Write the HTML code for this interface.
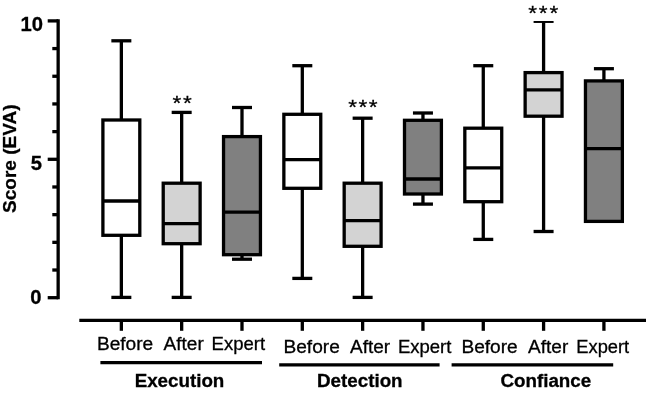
<!DOCTYPE html>
<html><head><meta charset="utf-8"><title>Score (EVA)</title>
<style>html,body{margin:0;padding:0;background:#fff}svg{display:block}text{font-family:"Liberation Sans",sans-serif;fill:#000}.b{font-weight:bold}</style></head><body>
<svg width="646" height="394" viewBox="0 0 646 394">
<rect width="646" height="394" fill="#fff"/>
<defs><clipPath id="plot"><rect x="60" y="20.9" width="586" height="290"/></clipPath></defs>
<g stroke="#000" stroke-width="3.3" fill="none" stroke-linecap="butt">
<line x1="58.15" y1="19.25" x2="58.15" y2="299.35"/>
<line x1="47.7" y1="297.70" x2="58.15" y2="297.70"/>
<line x1="52.3" y1="270.02" x2="58.15" y2="270.02"/>
<line x1="52.3" y1="242.34" x2="58.15" y2="242.34"/>
<line x1="52.3" y1="214.66" x2="58.15" y2="214.66"/>
<line x1="52.3" y1="186.98" x2="58.15" y2="186.98"/>
<line x1="47.7" y1="159.30" x2="58.15" y2="159.30"/>
<line x1="52.3" y1="131.62" x2="58.15" y2="131.62"/>
<line x1="52.3" y1="103.94" x2="58.15" y2="103.94"/>
<line x1="52.3" y1="76.26" x2="58.15" y2="76.26"/>
<line x1="52.3" y1="48.58" x2="58.15" y2="48.58"/>
<line x1="47.7" y1="20.90" x2="58.15" y2="20.90"/>
<line x1="79.3" y1="320.4" x2="646" y2="320.4"/>
<line x1="121.35" y1="320.4" x2="121.35" y2="330.8"/>
<line x1="181.67" y1="320.4" x2="181.67" y2="330.8"/>
<line x1="241.99" y1="320.4" x2="241.99" y2="330.8"/>
<line x1="302.31" y1="320.4" x2="302.31" y2="330.8"/>
<line x1="362.63" y1="320.4" x2="362.63" y2="330.8"/>
<line x1="422.95" y1="320.4" x2="422.95" y2="330.8"/>
<line x1="483.27" y1="320.4" x2="483.27" y2="330.8"/>
<line x1="543.59" y1="320.4" x2="543.59" y2="330.8"/>
<line x1="603.91" y1="320.4" x2="603.91" y2="330.8"/>
<line x1="100.4" y1="362.6" x2="262" y2="362.6"/>
<line x1="279.2" y1="364.8" x2="439.6" y2="364.8"/>
<line x1="451.6" y1="364.8" x2="613.2" y2="364.8"/>
</g>
<g stroke="#000" stroke-width="3.3" fill="none" stroke-linecap="butt" clip-path="url(#plot)">
<line x1="121.35" y1="40.8" x2="121.35" y2="120.0"/>
<line x1="111.35" y1="40.8" x2="131.35" y2="40.8"/>
<line x1="121.35" y1="235.3" x2="121.35" y2="297.4"/>
<line x1="111.35" y1="297.4" x2="131.35" y2="297.4"/>
<rect x="102.90" y="120.0" width="36.90" height="115.30" fill="#ffffff"/>
<line x1="102.90" y1="201.0" x2="139.80" y2="201.0"/>
<line x1="181.67" y1="112.4" x2="181.67" y2="183.2"/>
<line x1="171.67" y1="112.4" x2="191.67" y2="112.4"/>
<line x1="181.67" y1="243.7" x2="181.67" y2="297.4"/>
<line x1="171.67" y1="297.4" x2="191.67" y2="297.4"/>
<rect x="163.22" y="183.2" width="36.90" height="60.50" fill="#d3d3d3"/>
<line x1="163.22" y1="223.6" x2="200.12" y2="223.6"/>
<line x1="241.99" y1="107.5" x2="241.99" y2="136.6"/>
<line x1="231.99" y1="107.5" x2="251.99" y2="107.5"/>
<line x1="241.99" y1="254.7" x2="241.99" y2="259.2"/>
<line x1="231.99" y1="259.2" x2="251.99" y2="259.2"/>
<rect x="223.54" y="136.6" width="36.90" height="118.10" fill="#808080"/>
<line x1="223.54" y1="212.1" x2="260.44" y2="212.1"/>
<line x1="302.31" y1="65.7" x2="302.31" y2="114.3"/>
<line x1="292.31" y1="65.7" x2="312.31" y2="65.7"/>
<line x1="302.31" y1="188.3" x2="302.31" y2="278.4"/>
<line x1="292.31" y1="278.4" x2="312.31" y2="278.4"/>
<rect x="283.86" y="114.3" width="36.90" height="74.00" fill="#ffffff"/>
<line x1="283.86" y1="159.7" x2="320.76" y2="159.7"/>
<line x1="362.63" y1="118.2" x2="362.63" y2="183.2"/>
<line x1="352.63" y1="118.2" x2="372.63" y2="118.2"/>
<line x1="362.63" y1="246.3" x2="362.63" y2="297.4"/>
<line x1="352.63" y1="297.4" x2="372.63" y2="297.4"/>
<rect x="344.18" y="183.2" width="36.90" height="63.10" fill="#d3d3d3"/>
<line x1="344.18" y1="220.6" x2="381.08" y2="220.6"/>
<line x1="422.95" y1="113.0" x2="422.95" y2="120.3"/>
<line x1="412.95" y1="113.0" x2="432.95" y2="113.0"/>
<line x1="422.95" y1="194.0" x2="422.95" y2="204.1"/>
<line x1="412.95" y1="204.1" x2="432.95" y2="204.1"/>
<rect x="404.50" y="120.3" width="36.90" height="73.70" fill="#808080"/>
<line x1="404.50" y1="179.0" x2="441.40" y2="179.0"/>
<line x1="483.27" y1="65.7" x2="483.27" y2="128.2"/>
<line x1="473.27" y1="65.7" x2="493.27" y2="65.7"/>
<line x1="483.27" y1="201.7" x2="483.27" y2="239.4"/>
<line x1="473.27" y1="239.4" x2="493.27" y2="239.4"/>
<rect x="464.82" y="128.2" width="36.90" height="73.50" fill="#ffffff"/>
<line x1="464.82" y1="167.8" x2="501.72" y2="167.8"/>
<line x1="543.59" y1="21.3" x2="543.59" y2="72.6"/>
<line x1="533.59" y1="21.3" x2="553.59" y2="21.3"/>
<line x1="543.59" y1="116.2" x2="543.59" y2="231.5"/>
<line x1="533.59" y1="231.5" x2="553.59" y2="231.5"/>
<rect x="525.14" y="72.6" width="36.90" height="43.60" fill="#d3d3d3"/>
<line x1="525.14" y1="89.8" x2="562.04" y2="89.8"/>
<line x1="603.91" y1="68.7" x2="603.91" y2="80.9"/>
<line x1="593.91" y1="68.7" x2="613.91" y2="68.7"/>
<rect x="585.46" y="80.9" width="36.90" height="140.50" fill="#808080"/>
<line x1="585.46" y1="148.6" x2="622.36" y2="148.6"/>
</g>
<g font-size="20.2" class="b" text-anchor="end" stroke="#000" stroke-width="0.3">
<text x="43.0" y="30.8">10</text>
<text x="41.9" y="169.6">5</text>
<text x="41.5" y="304.4">0</text>
</g>
<g font-size="18.3" stroke="#000" stroke-width="0.3">
<text class="b" transform="translate(15.7 158.7) rotate(-90) scale(1.04 1)" text-anchor="middle">Score (EVA)</text>
<text transform="translate(96.9 349.6) scale(1.045 1)">Before</text>
<text transform="translate(163.6 349.6) scale(1.04 1)">After</text>
<text transform="translate(211.6 349.6) scale(1.012 1)">Expert</text>
<text transform="translate(283.5 352.8) scale(1.045 1)">Before</text>
<text transform="translate(350.0 352.8) scale(1.04 1)">After</text>
<text transform="translate(397.9 352.8) scale(1.012 1)">Expert</text>
<text transform="translate(461.4 352.8) scale(1.045 1)">Before</text>
<text transform="translate(528.1 352.8) scale(1.04 1)">After</text>
<text transform="translate(576.3 352.8) scale(1.0 1)">Expert</text>
<text class="b" font-size="18.5" transform="translate(179.5 386.6) scale(1.015 1)" text-anchor="middle">Execution</text>
<text class="b" font-size="18.5" transform="translate(359.8 386.6) scale(1.015 1)" text-anchor="middle">Detection</text>
<text class="b" font-size="18.5" transform="translate(545.8 386.6) scale(1.015 1)" text-anchor="middle">Confiance</text>
</g>
<g font-size="21.5" text-anchor="middle" stroke="#000" stroke-width="0.3">
<text transform="translate(176.9 109.60) scale(1.05 0.95)">*</text>
<text transform="translate(187.45 109.60) scale(1.05 0.95)">*</text>
<text transform="translate(352.55 114.25) scale(1.05 0.95)">*</text>
<text transform="translate(362.85 114.25) scale(1.05 0.95)">*</text>
<text transform="translate(373.2 114.25) scale(1.05 0.95)">*</text>
<text transform="translate(532.75 20.25) scale(1.05 0.95)">*</text>
<text transform="translate(543.15 20.25) scale(1.05 0.95)">*</text>
<text transform="translate(553.85 20.25) scale(1.05 0.95)">*</text>
</g>
</svg></body></html>
